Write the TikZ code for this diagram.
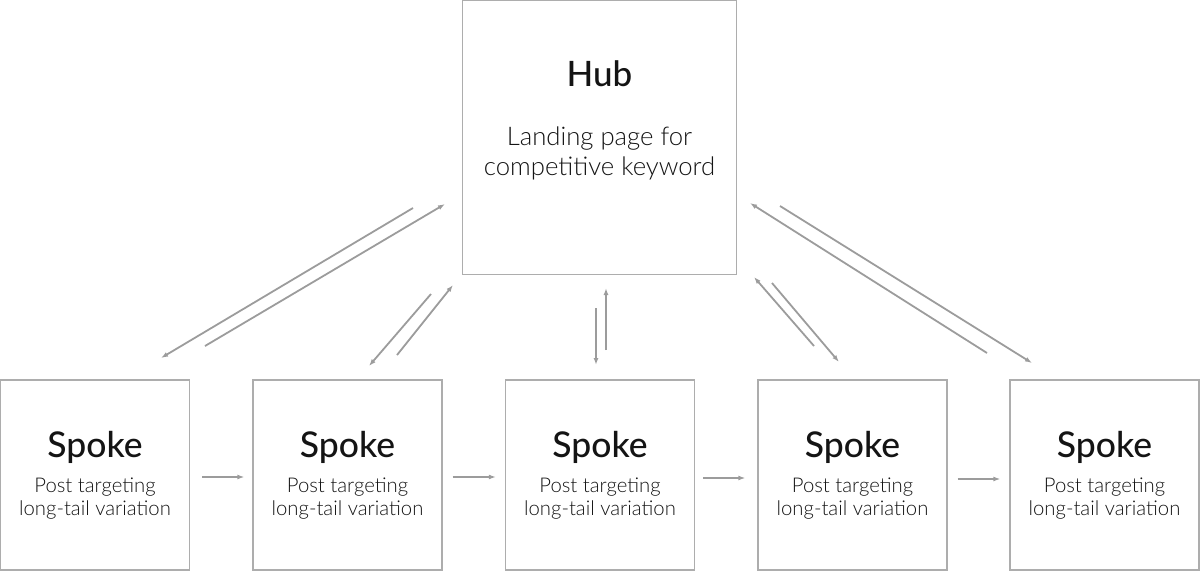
\documentclass[tikz,border=0pt]{standalone}
\usepackage{fontspec}
\setmainfont{Lato}
\newfontfamily\thinfont{Lato Light}
\newfontfamily\headfont{Lato Medium}
\usetikzlibrary{arrows.meta,positioning}
\definecolor{framegray}{HTML}{ADADAD}
\definecolor{linkgray}{HTML}{9C9C9C}
\definecolor{inkblack}{HTML}{141414}
\begin{document}
\begin{tikzpicture}[
            x=1pt, y=-1pt,
            box/.style={draw=framegray, line width=1.3pt, inner sep=0pt, text=inkblack, align=center},
            hub box/.style={box, minimum size=274pt},
            spoke box/.style={box, minimum width=189pt, minimum height=190pt, font=\thinfont\fontsize{20.3}{23}\selectfont},
            hub text/.style={text=inkblack, align=center, inner sep=0pt, font=\thinfont\fontsize{25.7}{30}\selectfont},
            link/.style={draw=linkgray, line width=1.8pt, -{Latex[length=7pt,width=5pt]}},
        ]
            \useasboundingbox (0,0) rectangle (1200,571);

            \node[hub box] (hub) at (599.5,137.5) {};
            \node[hub text] (hubtext) at (599.5,120.5) {{\headfont\fontsize{35}{35}\selectfont Hub}\\[29pt]Landing page for\\competitive keyword};

            \node[spoke box] (s1) at (95,475) {{\headfont\fontsize{35.5}{35}\selectfont Spoke}\\[12pt]Post targeting\\long-tail variation};
            \node[spoke box] (s2) at (347.5,475) {{\headfont\fontsize{35.5}{35}\selectfont Spoke}\\[12pt]Post targeting\\long-tail variation};
            \node[spoke box] (s3) at (600,475) {{\headfont\fontsize{35.5}{35}\selectfont Spoke}\\[12pt]Post targeting\\long-tail variation};
            \node[spoke box] (s4) at (852.5,475) {{\headfont\fontsize{35.5}{35}\selectfont Spoke}\\[12pt]Post targeting\\long-tail variation};
            \node[spoke box] (s5) at (1104.5,475) {{\headfont\fontsize{35.5}{35}\selectfont Spoke}\\[12pt]Post targeting\\long-tail variation};

            % ends of the hub <-> spoke links
            \coordinate (h1out) at (413,208); \coordinate (s1in) at (161,358);
            \coordinate (s1out) at (205,346); \coordinate (h1in) at (445,204);
            \coordinate (h2out) at (431,294); \coordinate (s2in) at (369,366);
            \coordinate (s2out) at (397,355); \coordinate (h2in) at (453,285);
            \coordinate (h3out) at (596,308); \coordinate (s3in) at (596,365);
            \coordinate (s3out) at (606,350); \coordinate (h3in) at (606,288);
            \coordinate (h4out) at (772,283); \coordinate (s4in) at (839,362);
            \coordinate (s4out) at (814,346); \coordinate (h4in) at (754,277);
            \coordinate (h5out) at (780,206); \coordinate (s5in) at (1032,363);
            \coordinate (s5out) at (987,353); \coordinate (h5in) at (750,203);

            \path[link] (h1out) -- (s1in);
            \path[link] (s1out) -- (h1in);
            \path[link] (h2out) -- (s2in);
            \path[link] (s2out) -- (h2in);
            \path[link] (h3out) -- (s3in);
            \path[link] (s3out) -- (h3in);
            \path[link] (h4out) -- (s4in);
            \path[link] (s4out) -- (h4in);
            \path[link] (h5out) -- (s5in);
            \path[link] (s5out) -- (h5in);

            % spoke to spoke
            \path[link] ([xshift=12pt,yshift=-2pt]s1.east) -- ([xshift=-8pt,yshift=-2pt]s2.west);
            \path[link] ([xshift=10pt,yshift=-2pt]s2.east) -- ([xshift=-9pt,yshift=-2pt]s3.west);
            \path[link] ([xshift=8pt,yshift=-3pt]s3.east) -- ([xshift=-12pt,yshift=-3pt]s4.west);
            \path[link] ([xshift=10pt,yshift=-4pt]s4.east) -- ([xshift=-9pt,yshift=-4pt]s5.west);
        \end{tikzpicture}
\end{document}
